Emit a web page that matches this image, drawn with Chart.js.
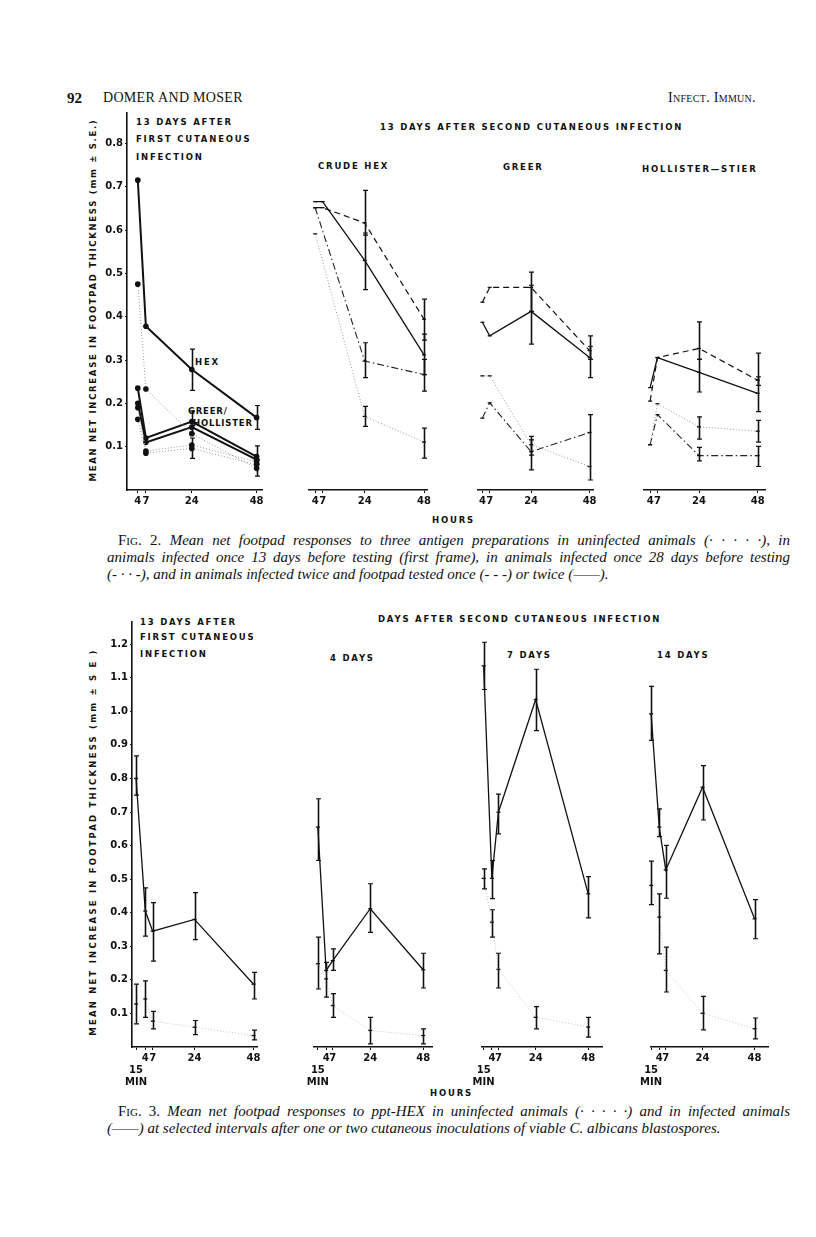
<!DOCTYPE html>
<html>
<head>
<meta charset="utf-8">
<script src="https://cdn.jsdelivr.net/npm/chart.js@4.4.1/dist/chart.umd.min.js"></script>
<style>
  body { margin: 0; background: #fff; }
  #page { position: relative; width: 816px; height: 1237px; overflow: hidden; background: #fff; color: #111; }
  .t { position: absolute; white-space: nowrap; font-family: "DejaVu Sans", sans-serif; font-weight: bold;
       font-size: 8.5px; letter-spacing: 1.8px; line-height: 10px; }
  .ylab { position: absolute; white-space: nowrap; font-family: "DejaVu Sans", sans-serif; font-weight: bold;
          font-size: 8.5px; letter-spacing: 1.7px; transform: translate(-50%, -50%) rotate(-90deg); }
  .cap { position: absolute; font-family: "Liberation Serif", serif; font-style: italic; font-size: 15px;
         line-height: 17px; white-space: nowrap; }
  .just { text-align: justify; text-align-last: justify; white-space: normal; }
  .sc { font-style: normal; font-variant: small-caps; }
  .up { font-style: normal; }
  .hd { position: absolute; font-family: "Liberation Serif", serif; font-size: 14px; line-height: 16px; white-space: nowrap; }
  .panel { position: absolute; }
</style>
</head>
<body>
<div id="page">
  <div class="hd" style="left:67px;top:90px;font-weight:bold;font-size:15px;">92</div>
  <div class="hd" style="left:103px;top:90px;letter-spacing:0.3px;">DOMER AND MOSER</div>
  <div class="hd" style="left:668px;top:90px;font-variant:small-caps;letter-spacing:0.3px;">Infect. Immun.</div>

  <!-- Fig. 2 texts -->
  <div class="t" style="left:136px;top:117px;">13 DAYS AFTER</div>
  <div class="t" style="left:136px;top:134px;">FIRST CUTANEOUS</div>
  <div class="t" style="left:136px;top:152px;">INFECTION</div>
  <div class="t" style="left:380px;top:122px;">13 DAYS AFTER SECOND CUTANEOUS INFECTION</div>
  <div class="t" style="left:318px;top:161px;">CRUDE HEX</div>
  <div class="t" style="left:503px;top:162px;">GREER</div>
  <div class="t" style="left:642px;top:164px;">HOLLISTER—STIER</div>
  <div class="t" style="left:195px;top:357px;">HEX</div>
  <div class="t" style="left:188px;top:406px;letter-spacing:0.8px;">GREER/</div>
  <div class="t" style="left:193px;top:418px;letter-spacing:0.8px;">HOLLISTER</div>
  <div class="ylab" style="left:93px;top:300px;">MEAN NET INCREASE IN FOOTPAD THICKNESS (mm ± S.E.)</div>
  <div class="t" style="left:432px;top:515px;">HOURS</div>
  <div class="cap just" style="left:118px;top:532px;width:672px;"><span class="sc">Fig.</span> <span class="up">2.</span> Mean net footpad responses to three antigen preparations in uninfected animals (· · · · ·), in</div>
  <div class="cap just" style="left:107px;top:549px;width:683px;">animals infected once 13 days before testing (first frame), in animals infected once 28 days before testing</div>
  <div class="cap" style="left:107px;top:566px;">(- · · -), and in animals infected twice and footpad tested once (- - -) or twice (——).</div>

  <!-- Fig. 3 texts -->
  <div class="t" style="left:140px;top:617px;">13 DAYS AFTER</div>
  <div class="t" style="left:140px;top:632px;">FIRST CUTANEOUS</div>
  <div class="t" style="left:140px;top:649px;">INFECTION</div>
  <div class="t" style="left:378px;top:614px;">DAYS AFTER SECOND CUTANEOUS INFECTION</div>
  <div class="t" style="left:330px;top:653px;">4 DAYS</div>
  <div class="t" style="left:507px;top:650px;">7 DAYS</div>
  <div class="t" style="left:657px;top:650px;">14 DAYS</div>
  <div class="ylab" style="left:93px;top:842px;letter-spacing:2.2px;">MEAN NET INCREASE IN FOOTPAD THICKNESS (mm ± S E )</div>
  <div class="t" style="left:430px;top:1088px;">HOURS</div>
  <div class="cap just" style="left:118px;top:1103px;width:672px;"><span class="sc">Fig.</span> <span class="up">3.</span> Mean net footpad responses to ppt-HEX in uninfected animals (· · · · ·) and in infected animals</div>
  <div class="cap" style="left:107px;top:1120px;">(——) at selected intervals after one or two cutaneous inoculations of viable C. albicans blastospores.</div>
</div>

<script>
// ---------- Fig. 2 : hours after footpad test ----------
const hours2 = [4, 7, 24, 48];
const hourLabels2 = ["4", "7", "24", "48"];
const yTicks2 = [0.1, 0.2, 0.3, 0.4, 0.5, 0.6, 0.7, 0.8];

// first frame, 13 days after first cutaneous infection
const firstHex = [0.715, 0.378, 0.278, 0.167];
const firstHexErr = [null, null, [0.23, 0.325], [0.14, 0.195]];
const firstHexUninf = [0.475, 0.233, 0.13, 0.05];
const firstHexUninfErr = [null, null, null, [0.032, 0.07]];
const firstGreer = [0.2, 0.11, 0.145, 0.07];
const firstHoll = [0.235, 0.12, 0.158, 0.077];
const firstHollErr = [null, null, [0.13, 0.182], [0.06, 0.102]];
const firstGreerUninf = [0.19, 0.09, 0.104, 0.065];
const firstHollUninf = [0.163, 0.085, 0.096, 0.058];
const firstHollUninfErr = [null, null, [0.073, 0.12], null];

// crude HEX
const crudeTwice = [0.662, 0.662, 0.527, 0.31];
const crudeTwiceErr = [null, null, [0.46, 0.59], [0.265, 0.358]];
const crudeOnce = [0.648, 0.648, 0.613, 0.392];
const crudeOnceErr = [null, null, [0.585, 0.688], [0.344, 0.438]];
const crude28 = [0.648, null, 0.296, 0.265];
const crude28Err = [null, null, [0.258, 0.338], [0.227, 0.3]];
const crudeUninf = [0.588, null, 0.169, 0.11];
const crudeUninfErr = [null, null, [0.146, 0.192], [0.073, 0.142]];

// Greer
const greerTwice = [0.385, 0.354, 0.41, 0.304];
const greerTwiceErr = [null, null, [0.335, 0.47], [0.258, 0.33]];
const greerOnce = [0.431, 0.465, 0.465, 0.32];
const greerOnceErr = [null, null, [0.41, 0.5], [0.3, 0.354]];
const greer28 = [0.165, 0.2, 0.088, 0.132];
const greer28Err = [null, null, [0.046, 0.115], [0.023, 0.173]];
const greerUninf = [0.262, 0.262, 0.104, 0.054];
const greerUninfErr = [null, null, [0.08, 0.123], null];

// Hollister-Stier
const hollTwice = [0.235, 0.304, 0.27, 0.222];
const hollTwiceErr = [null, null, [0.225, 0.3], [0.18, 0.26]];
const hollOnce = [0.204, 0.304, 0.325, 0.252];
const hollOnceErr = [null, null, [0.3, 0.386], [0.24, 0.314]];
const holl28 = [0.104, 0.173, 0.079, 0.079];
const holl28Err = [null, null, [0.067, 0.098], [0.054, 0.1]];
const hollUninf = [0.104, 0.198, 0.145, 0.135];
const hollUninfErr = [null, null, [0.117, 0.168], [0.11, 0.16]];

// ---------- Fig. 3 : ppt-HEX ----------
const hours3 = [0.25, 4, 7, 24, 48];
const hourLabels3 = [["", "15", "MIN"], "4", "7", "24", "48"];
const yTicks3 = [0.1, 0.2, 0.3, 0.4, 0.5, 0.6, 0.7, 0.8, 0.9, 1.0, 1.1, 1.2];

const first13 = [0.8, 0.405, 0.345, 0.38, 0.187];
const first13Err = [[0.75, 0.867], [0.33, 0.474], [0.256, 0.43], [0.32, 0.46], [0.143, 0.222]];
const first13Uninf = [0.128, 0.143, 0.077, 0.059, 0.034];
const first13UninfErr = [[0.069, 0.187], [0.088, 0.197], [0.054, 0.106], [0.037, 0.079], [0.021, 0.05]];

const day4 = [0.652, 0.227, 0.256, 0.41, 0.229];
const day4Err = [[0.553, 0.736], [0.148, 0.251], [0.227, 0.291], [0.34, 0.484], [0.175, 0.278]];
const day4Uninf = [0.247, 0.202, 0.123, 0.049, 0.034];
const day4UninfErr = [[0.172, 0.326], null, [0.088, 0.158], [0.009, 0.088], [0.009, 0.054]];

const day7 = [1.13, 0.5, 0.696, 1.03, 0.454];
const day7Err = [[1.06, 1.2], [0.44, 0.553], [0.632, 0.75], [0.938, 1.12], [0.383, 0.505]];
const day7Uninf = [0.5, 0.37, 0.23, 0.088, 0.059];
const day7UninfErr = [[0.469, 0.528], [0.326, 0.407], [0.175, 0.278], [0.054, 0.12], [0.029, 0.088]];

const day14 = [0.988, 0.652, 0.525, 0.77, 0.38];
const day14Err = [[0.909, 1.069], [0.624, 0.706], [0.441, 0.598], [0.673, 0.834], [0.321, 0.437]];
const day14Uninf = [0.479, 0.385, 0.227, 0.1, 0.054];
const day14UninfErr = [[0.422, 0.551], [0.276, 0.454], [0.163, 0.296], [0.051, 0.15], [0.024, 0.086]];

// line styles
const solid = { borderColor: "#111", borderWidth: 1.3, borderDash: [] };
const thick = { borderColor: "#111", borderWidth: 2, borderDash: [] };
const once = { borderColor: "#111", borderWidth: 1.2, borderDash: [6, 4] };
const d28 = { borderColor: "#222", borderWidth: 1.1, borderDash: [7, 3, 1.5, 3] };
const uninf = { borderColor: "#999", borderWidth: 1, borderDash: [1, 2] };
const faint = { borderColor: "#c4c4c4", borderWidth: 1, borderDash: [1, 2] };

const tickFont = { family: "DejaVu Sans", weight: "bold", size: 10 };

// error bars drawn through the chart's own scales
const errorBars = {
  id: "errorBars",
  afterDatasetsDraw(chart) {
    const { ctx, scales: { x, y } } = chart;
    ctx.save();
    ctx.strokeStyle = "#111";
    chart.data.datasets.forEach(ds => {
      if (!ds.err) return;
      ds.err.forEach((e, i) => {
        if (!e) return;
        const px = Math.round(x.getPixelForValue(ds.data[i].x)) + 0.5;
        const lo = y.getPixelForValue(e[0]), hi = y.getPixelForValue(e[1]);
        ctx.lineWidth = 1.6;
        ctx.beginPath();
        ctx.moveTo(px, lo); ctx.lineTo(px, hi);
        ctx.stroke();
        ctx.lineWidth = 1.2;
        ctx.beginPath();
        ctx.moveTo(px - 2.5, lo); ctx.lineTo(px + 2.5, lo);
        ctx.moveTo(px - 2.5, hi); ctx.lineTo(px + 2.5, hi);
        ctx.stroke();
      });
    });
    ctx.restore();
  }
};

function series(hours, values, err, style, dots) {
  return Object.assign({
    data: hours.map((h, i) => ({ x: h, y: values[i] })),
    err: err,
    fill: false,
    tension: 0,
    spanGaps: true,
    clip: false,
    pointStyle: dots ? "circle" : "line",
    pointRadius: dots ? 2.8 : 2,
    pointBorderWidth: dots ? 0 : 1.3,
    pointBackgroundColor: "#111",
    pointBorderColor: "#111"
  }, style);
}

const page = document.getElementById("page");

function panel(p) {
  const padL = p.showY ? 34 : 16, padR = 12, padT = 6, padB = 42;
  const w = p.r - p.l + padL + padR, h = p.b - p.t + padT + padB;
  const box = document.createElement("div");
  box.className = "panel";
  box.style.left = (p.l - padL) + "px";
  box.style.top = (p.t - padT) + "px";
  box.style.width = w + "px";
  box.style.height = h + "px";
  const c = document.createElement("canvas");
  box.appendChild(c);
  page.appendChild(box);

  new Chart(c, {
    type: "line",
    data: { datasets: p.sets },
    options: {
      responsive: true,
      maintainAspectRatio: false,
      animation: false,
      events: [],
      layout: { padding: { left: p.showY ? 0 : padL, right: padR, top: padT, bottom: 0 } },
      plugins: { legend: { display: false }, tooltip: { enabled: false } },
      scales: {
        x: {
          type: "linear",
          min: p.xMin,
          max: p.xMax,
          afterFit: s => { s.height = padB; },
          afterBuildTicks: s => { s.ticks = p.hours.map(v => ({ value: v })); },
          ticks: {
            autoSkip: false, maxRotation: 0, padding: 2, color: "#111", font: tickFont,
            callback: (v, i) => p.labels[i]
          },
          grid: { display: true, drawOnChartArea: false, drawTicks: true, tickLength: 3, color: "#111" },
          border: { display: true, color: "#111", width: 1.6 }
        },
        y: {
          type: "linear",
          display: p.showY,
          min: 0,
          max: p.yMax,
          afterFit: s => { s.width = padL; },
          afterBuildTicks: s => { s.ticks = p.yTicks.map(v => ({ value: v })); },
          ticks: {
            padding: 2, color: "#111", font: tickFont,
            callback: v => v.toFixed(1)
          },
          grid: { display: true, drawOnChartArea: false, drawTicks: true, tickLength: 2, color: "#111" },
          border: { display: true, color: "#111", width: 1.6 }
        }
      }
    },
    plugins: [errorBars]
  });
}

// Fig. 2 panels
const f2 = { t: 111, b: 490, yMax: 0.87, hours: hours2, labels: hourLabels2, yTicks: yTicks2 };
panel(Object.assign({}, f2, {
  l: 127, r: 262, xMin: 0, xMax: 50, showY: true,
  sets: [
    series(hours2, firstHexUninf, firstHexUninfErr, uninf, true),
    series(hours2, firstGreerUninf, null, uninf, true),
    series(hours2, firstHollUninf, firstHollUninfErr, uninf, true),
    series(hours2, firstHex, firstHexErr, thick, true),
    series(hours2, firstGreer, null, thick, true),
    series(hours2, firstHoll, firstHollErr, thick, true)
  ]
}));
panel(Object.assign({}, f2, {
  l: 293, r: 427, xMin: 1.5, xMax: 49.2, showY: false,
  sets: [
    series(hours2, crudeUninf, crudeUninfErr, uninf),
    series(hours2, crude28, crude28Err, d28),
    series(hours2, crudeOnce, crudeOnceErr, once),
    series(hours2, crudeTwice, crudeTwiceErr, solid)
  ]
}));
panel(Object.assign({}, f2, {
  l: 462, r: 593, xMin: 2.2, xMax: 49.4, showY: false,
  sets: [
    series(hours2, greerUninf, greerUninfErr, uninf),
    series(hours2, greer28, greer28Err, d28),
    series(hours2, greerOnce, greerOnceErr, once),
    series(hours2, greerTwice, greerTwiceErr, solid)
  ]
}));
panel(Object.assign({}, f2, {
  l: 628, r: 765, xMin: 1.5, xMax: 51, showY: false,
  sets: [
    series(hours2, hollUninf, hollUninfErr, uninf),
    series(hours2, holl28, holl28Err, d28),
    series(hours2, hollOnce, hollOnceErr, once),
    series(hours2, hollTwice, hollTwiceErr, solid)
  ]
}));

// Fig. 3 panels
const f3 = { t: 620, b: 1047, yMax: 1.266, hours: hours3, labels: hourLabels3, yTicks: yTicks3 };
panel(Object.assign({}, f3, {
  l: 132, r: 257, xMin: -1.4, xMax: 49.4, showY: true,
  sets: [series(hours3, first13Uninf, first13UninfErr, faint), series(hours3, first13, first13Err, solid)]
}));
panel(Object.assign({}, f3, {
  l: 298, r: 432, xMin: -1.5, xMax: 52, showY: false,
  sets: [series(hours3, day4Uninf, day4UninfErr, faint), series(hours3, day4, day4Err, solid)]
}));
panel(Object.assign({}, f3, {
  l: 466, r: 602, xMin: -0.5, xMax: 54.3, showY: false,
  sets: [series(hours3, day7Uninf, day7UninfErr, faint), series(hours3, day7, day7Err, solid)]
}));
panel(Object.assign({}, f3, {
  l: 635, r: 768, xMin: 0.2, xMax: 54.2, showY: false,
  sets: [series(hours3, day14Uninf, day14UninfErr, faint), series(hours3, day14, day14Err, solid)]
}));
</script>
</body>
</html>
